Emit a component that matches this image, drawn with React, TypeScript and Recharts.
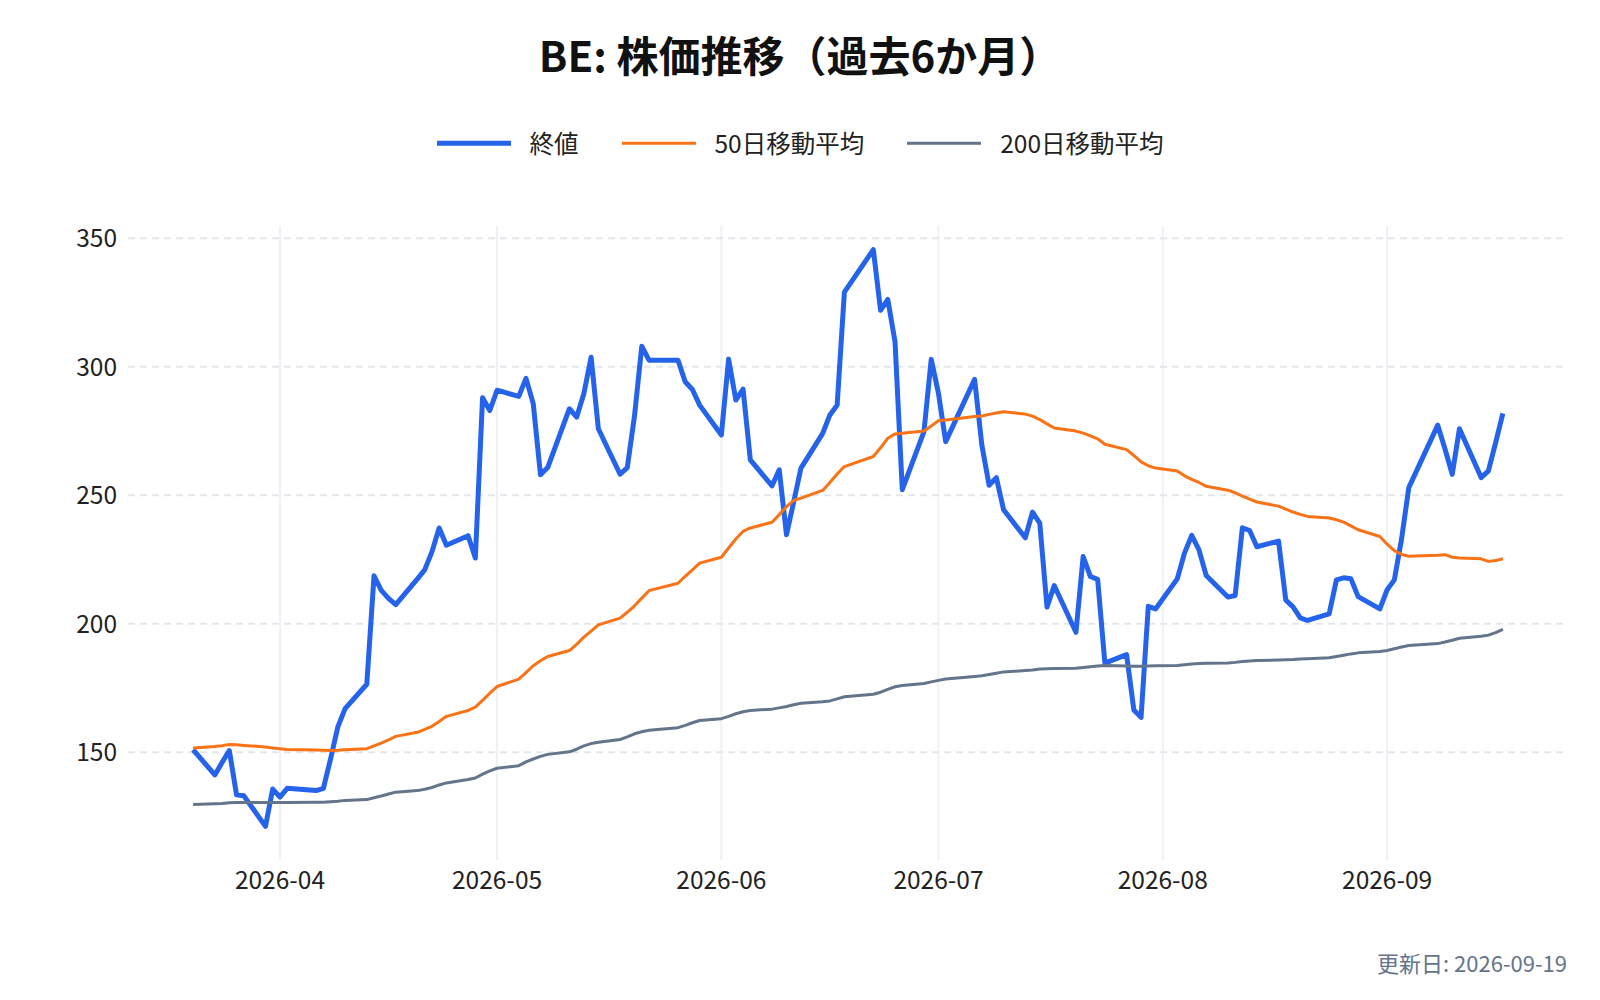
import React from "react";
import { LineChart, Line, XAxis, YAxis, CartesianGrid } from "recharts";

// trading days shown in the chart
const dates = [
  "2026-03-20", "2026-03-23", "2026-03-24", "2026-03-25", "2026-03-26", "2026-03-27", "2026-03-30", "2026-03-31",
  "2026-04-01", "2026-04-02", "2026-04-06", "2026-04-07", "2026-04-08", "2026-04-09", "2026-04-10", "2026-04-13",
  "2026-04-14", "2026-04-15", "2026-04-16", "2026-04-17", "2026-04-20", "2026-04-21", "2026-04-22", "2026-04-23",
  "2026-04-24", "2026-04-27", "2026-04-28", "2026-04-29", "2026-04-30",
  "2026-05-01", "2026-05-04", "2026-05-05", "2026-05-06", "2026-05-07", "2026-05-08", "2026-05-11", "2026-05-12",
  "2026-05-13", "2026-05-14", "2026-05-15", "2026-05-18", "2026-05-19", "2026-05-20", "2026-05-21", "2026-05-22",
  "2026-05-26", "2026-05-27", "2026-05-28", "2026-05-29",
  "2026-06-01", "2026-06-02", "2026-06-03", "2026-06-04", "2026-06-05", "2026-06-08", "2026-06-09", "2026-06-10",
  "2026-06-11", "2026-06-12", "2026-06-15", "2026-06-16", "2026-06-17", "2026-06-18", "2026-06-22", "2026-06-23",
  "2026-06-24", "2026-06-25", "2026-06-26", "2026-06-29", "2026-06-30",
  "2026-07-01", "2026-07-02", "2026-07-06", "2026-07-07", "2026-07-08", "2026-07-09", "2026-07-10", "2026-07-13",
  "2026-07-14", "2026-07-15", "2026-07-16", "2026-07-17", "2026-07-20", "2026-07-21", "2026-07-22", "2026-07-23",
  "2026-07-24", "2026-07-27", "2026-07-28", "2026-07-29", "2026-07-30", "2026-07-31",
  "2026-08-03", "2026-08-04", "2026-08-05", "2026-08-06", "2026-08-07", "2026-08-10", "2026-08-11", "2026-08-12",
  "2026-08-13", "2026-08-14", "2026-08-17", "2026-08-18", "2026-08-19", "2026-08-20", "2026-08-21", "2026-08-24",
  "2026-08-25", "2026-08-26", "2026-08-27", "2026-08-28", "2026-08-31",
  "2026-09-01", "2026-09-02", "2026-09-03", "2026-09-04", "2026-09-08", "2026-09-09", "2026-09-10", "2026-09-11",
  "2026-09-14", "2026-09-15", "2026-09-16", "2026-09-17",
];

const close = [
  151.0, 141.2, 146.0, 150.7, 133.5, 133.1, 121.2, 135.7,
  132.6, 136.0, 135.1, 136.0, 147.5, 159.9, 167.0, 176.5, 218.7, 213.0, 209.9, 207.5, 217.5, 221.0, 228.0, 237.3,
  230.6, 234.3, 225.6, 288.0, 283.0,
  290.9, 288.5, 295.5, 285.7, 258.0, 260.8, 283.7, 280.4, 289.6, 303.7, 275.9, 258.2, 260.8, 281.0, 308.0, 302.6,
  302.6, 294.2, 291.2, 285.1,
  273.5, 303.0, 287.1, 291.3, 263.8, 253.7, 259.9, 234.7, 247.5, 260.6, 274.1, 281.3, 285.1, 329.1, 345.6, 322.0,
  326.2, 309.7, 252.2, 274.8, 302.9,
  289.7, 270.9, 295.1, 269.5, 253.9, 256.9, 244.4, 233.5, 243.5, 239.2, 206.5, 214.9, 196.7, 226.2, 218.4, 217.3,
  184.7, 188.0, 166.5, 163.6, 206.8, 205.8,
  217.5, 227.5, 234.4, 228.8, 218.8, 210.4, 211.0, 237.4, 236.3, 230.0, 232.2, 209.2, 206.6, 202.3, 201.3, 203.9,
  217.1, 217.9, 217.5, 210.6, 205.8,
  213.2, 217.1, 233.0, 253.0, 277.3, 268.0, 258.2, 275.9, 256.9, 259.5, 270.5, 281.9,
];

const ma50 = [
  151.7, 152.3, 152.6, 153.0, 152.9, 152.7, 152.1, 151.7,
  151.4, 151.1, 150.9, 150.8, 150.7, 150.8, 151.0, 151.4, 152.5, 153.6, 154.8, 156.2, 157.8, 158.9, 160.1, 162.0,
  164.0, 166.3, 167.6, 170.2, 173.0,
  175.6, 178.5, 181.0, 183.7, 185.6, 187.3, 189.6, 192.0, 194.8, 197.2, 199.6, 202.2, 204.5, 207.0, 210.0, 212.9,
  215.8, 218.5, 221.0, 223.6,
  225.9, 229.5, 233.0, 236.0, 237.3, 239.5, 242.5, 245.6, 248.0, 248.9, 251.9, 255.0, 258.3, 261.2, 265.1, 268.5,
  272.2, 273.9, 274.2, 275.0, 277.0,
  279.0, 279.3, 280.7, 280.9, 281.5, 282.0, 282.5, 281.6, 280.8, 279.5, 277.8, 276.2, 275.0, 274.2, 273.1, 272.0,
  269.9, 267.8, 265.5, 263.0, 261.5, 260.6,
  259.5, 257.6, 256.2, 255.0, 253.5, 252.0, 251.0, 249.7, 248.5, 247.4, 245.8, 244.6, 243.5, 242.6, 241.8, 241.2,
  240.5, 239.6, 238.1, 236.6, 234.0,
  231.0, 228.5, 227.0, 226.3, 226.7, 226.9, 225.9, 225.6, 225.3, 224.3, 224.6, 225.3,
];

const ma200 = [
  129.7, 130.0, 130.1, 130.4, 130.5, 130.5, 130.5, 130.5,
  130.5, 130.5, 130.6, 130.6, 130.8, 131.0, 131.3, 131.6, 132.3, 133.0, 133.8, 134.5, 135.1, 135.6, 136.3, 137.3,
  138.1, 139.4, 140.0, 141.5, 142.8,
  143.8, 144.8, 146.3, 147.4, 148.4, 149.2, 150.2, 151.2, 152.5, 153.4, 153.9, 155.0, 156.0, 157.2, 158.0, 158.6,
  159.6, 160.5, 161.5, 162.4,
  163.1, 164.0, 165.0, 165.8, 166.3, 166.8, 167.3, 167.8, 168.5, 169.1, 169.7, 170.0, 170.8, 171.6, 172.6, 173.4,
  174.5, 175.5, 176.0, 176.8, 177.4,
  178.0, 178.5, 179.5, 179.8, 180.3, 180.8, 181.3, 181.8, 182.0, 182.4, 182.5, 182.6, 182.7, 183.0, 183.3, 183.6,
  183.8, 183.6, 183.5, 183.5, 183.6, 183.7,
  183.8, 184.1, 184.4, 184.6, 184.7, 184.8, 185.0, 185.3, 185.5, 185.7, 185.9, 186.0, 186.1, 186.3, 186.4, 186.8,
  187.3, 187.8, 188.3, 188.7, 189.2,
  189.6, 190.3, 191.0, 191.6, 192.3, 192.9, 193.6, 194.4, 195.2, 195.6, 196.6, 197.8,
];

const monthTicks = ["2026-04-01", "2026-05-01", "2026-06-01", "2026-07-01", "2026-08-01", "2026-09-01"];
const yTicks = [150, 200, 250, 300, 350];
const seriesNames = ["終値", "50日移動平均", "200日移動平均"];
const title = "BE: 株価推移（過去6か月）";
const updated = "更新日: 2026-09-19";

const FONT = "'Noto Sans CJK JP', 'Noto Sans', sans-serif";
const BLUE = "#2563eb";
const ORANGE = "#f97316";
const SLATE = "#64748b";

const toTs = (d: string) => Date.parse(d + "T00:00:00Z");

const rows = dates.map((d, i) => ({
  ts: toTs(d),
  close: close[i],
  ma50: ma50[i],
  ma200: ma200[i],
}));

const legendItems = [
  { name: seriesNames[0], color: BLUE, width: 5 },
  { name: seriesNames[1], color: ORANGE, width: 3.5 },
  { name: seriesNames[2], color: SLATE, width: 3.5 },
];

const tickStyle = { fill: "#222", fontSize: 24.5, fontFamily: FONT };

export default function App() {
  return (
    <div style={{ position: "relative", width: 1600, height: 1000, background: "#fff", fontFamily: FONT }}>
      <style>{"body{margin:0}"}</style>

      <div
        style={{
          position: "absolute", top: 54, left: 0, width: 1600, transform: "translateY(-50%)",
          textAlign: "center", fontSize: 42, fontWeight: 700, lineHeight: 1, color: "#111",
        }}
      >
        {title}
      </div>

      <div
        style={{
          position: "absolute", top: 143, left: 0, width: 1600, transform: "translateY(-50%)",
          display: "flex", justifyContent: "center", alignItems: "center", gap: 43,
          fontSize: 24.5, lineHeight: 1, color: "#222",
        }}
      >
        {legendItems.map((it) => (
          <div key={it.name} style={{ display: "flex", alignItems: "center", gap: 19 }}>
            <span style={{ display: "inline-block", width: 74, height: it.width, background: it.color }} />
            <span>{it.name}</span>
          </div>
        ))}
      </div>

      <div style={{ position: "absolute", left: 0, top: 0 }}>
        <LineChart width={1600} height={1000} data={rows} margin={{ top: 226, right: 32, left: 8, bottom: 80 }}>
          <CartesianGrid horizontal={false} vertical syncWithTicks stroke="#eef1f5" strokeWidth={2} />
          <CartesianGrid horizontal vertical={false} syncWithTicks stroke="#e3e6eb" strokeWidth={2} strokeDasharray="7 5" />
          <XAxis
            dataKey="ts"
            type="number"
            scale="linear"
            domain={[Date.UTC(2026, 2, 11), Date.UTC(2026, 8, 26)]}
            ticks={monthTicks.map(toTs)}
            tickFormatter={(v: number) => new Date(v).toISOString().slice(0, 7)}
            allowDataOverflow
            axisLine={false}
            tickLine={false}
            tickSize={0}
            tickMargin={12}
            height={60}
            tick={tickStyle}
          />
          <YAxis
            type="number"
            domain={[108.1, 354.8]}
            ticks={yTicks}
            allowDataOverflow
            axisLine={false}
            tickLine={false}
            tickSize={0}
            tickMargin={11}
            width={120}
            tick={tickStyle}
          />
          <Line type="linear" dataKey="close" name={seriesNames[0]} stroke={BLUE} strokeWidth={5}
            strokeLinejoin="round" dot={false} activeDot={false} isAnimationActive={false} />
          <Line type="linear" dataKey="ma50" name={seriesNames[1]} stroke={ORANGE} strokeWidth={3}
            strokeLinejoin="round" dot={false} activeDot={false} isAnimationActive={false} />
          <Line type="linear" dataKey="ma200" name={seriesNames[2]} stroke={SLATE} strokeWidth={3}
            strokeLinejoin="round" dot={false} activeDot={false} isAnimationActive={false} />
        </LineChart>
      </div>

      <div
        style={{
          position: "absolute", right: 33, top: 962, transform: "translateY(-50%)",
          fontSize: 22, lineHeight: 1, color: SLATE,
        }}
      >
        {updated}
      </div>
    </div>
  );
}
